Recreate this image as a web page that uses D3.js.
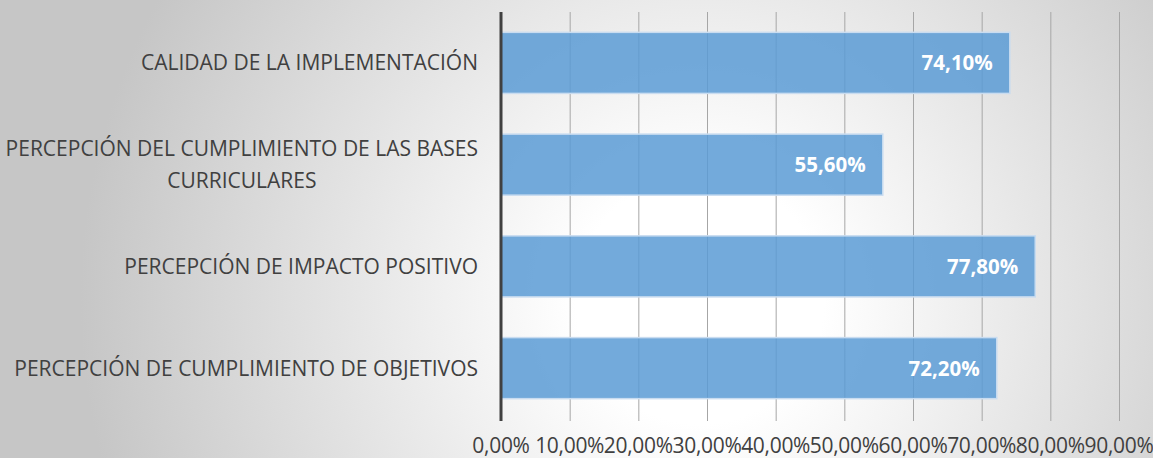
<!DOCTYPE html>
<html>
<head>
<meta charset="utf-8">
<script src="https://cdn.jsdelivr.net/npm/d3@7"></script>
<style>
  body { margin: 0; }
  svg { display: block; font-family: "Open Sans", sans-serif; }
</style>
</head>
<body>
<div id="chart"></div>
<script>
// data, top to bottom
var categories = [
  ["CALIDAD DE LA IMPLEMENTACIÓN"],
  ["PERCEPCIÓN DEL CUMPLIMIENTO DE LAS BASES", "CURRICULARES"],
  ["PERCEPCIÓN DE IMPACTO POSITIVO"],
  ["PERCEPCIÓN DE CUMPLIMIENTO DE OBJETIVOS"]
]
var values = [0.741, 0.556, 0.778, 0.722]
var ticks = [0, 0.1, 0.2, 0.3, 0.4, 0.5, 0.6, 0.7, 0.8, 0.9]

var width = 1153, height = 458
var fmt = function(v){ return (v * 100).toFixed(2).replace('.', ',') + '%' }

var svg = d3.select('#chart').append('svg')
  .attr('width', width)
  .attr('height', height)

var defs = svg.append('defs')
var grad = defs.append('radialGradient')
  .attr('id', 'bg')
  .attr('gradientUnits', 'userSpaceOnUse')
  .attr('cx', 700).attr('cy', 300).attr('r', 620)
grad.append('stop').attr('offset', '0%').attr('stop-color', '#ffffff')
grad.append('stop').attr('offset', '20%').attr('stop-color', '#ffffff')
grad.append('stop').attr('offset', '100%').attr('stop-color', '#c6c6c6')

svg.append('rect')
  .attr('width', width).attr('height', height)
  .attr('fill', 'url(#bg)')

var x = d3.scaleLinear().domain([0, 0.9]).range([501, 1119])
var y = d3.scaleBand().domain(d3.range(categories.length))
  .range([12, 419]).paddingInner(0.4).paddingOuter(0.2)

// gridlines
svg.append('g')
  .selectAll('line')
  .data(ticks.slice(1))
  .enter()
  .append('line')
  .attr('x1', function(d){ return x(d) + 0.5 })
  .attr('x2', function(d){ return x(d) + 0.5 })
  .attr('y1', 12)
  .attr('y2', 421)
  .attr('stroke', '#a6a6a6')
  .attr('stroke-width', 1)

// bars
svg.append('g')
  .selectAll('rect')
  .data(values)
  .enter()
  .append('rect')
  .attr('x', x(0))
  .attr('y', function(d, i){ return y(i) })
  .attr('width', function(d){ return x(d) - x(0) })
  .attr('height', y.bandwidth())
  .attr('fill', '#5b9bd5')
  .attr('fill-opacity', 0.85)
  .attr('stroke', '#c9dcf0')
  .attr('stroke-width', 1.5)

// value labels
svg.append('g')
  .selectAll('text')
  .data(values)
  .enter()
  .append('text')
  .attr('x', function(d){ return x(d) - 17 })
  .attr('y', function(d, i){ return y(i) + y.bandwidth() / 2 })
  .attr('dy', '0.36em')
  .attr('text-anchor', 'end')
  .attr('fill', '#ffffff')
  .attr('font-weight', 'bold')
  .style('font-size', '20.5px')
  .text(fmt)

// axis line
svg.append('line')
  .attr('x1', x(0)).attr('x2', x(0))
  .attr('y1', 12).attr('y2', 421)
  .attr('stroke', '#404040')
  .attr('stroke-width', 3)

// x tick labels
svg.append('g')
  .selectAll('text')
  .data(ticks)
  .enter()
  .append('text')
  .attr('x', function(d){ return x(d) })
  .attr('y', 445)
  .attr('dy', '0.36em')
  .attr('text-anchor', 'middle')
  .attr('fill', '#404040')
  .style('font-size', '21px')
  .style('letter-spacing', '-0.3px')
  .text(fmt)

// category labels, multi-line centred on the widest line, right edge at 478
var labelG = svg.append('g')
categories.forEach(function(lines, i){
  var g = labelG.append('g')
  var cy = y(i) + y.bandwidth() / 2
  var lh = 32
  var texts = lines.map(function(line, j){
    return g.append('text')
      .attr('y', cy + (j - (lines.length - 1) / 2) * lh)
      .attr('dy', '0.36em')
      .attr('text-anchor', 'middle')
      .attr('fill', '#404040')
      .style('font-size', '21px')
      .text(line)
  })
  var maxW = d3.max(texts, function(t){ return t.node().getComputedTextLength() })
  texts.forEach(function(t){ t.attr('x', 478 - maxW / 2) })
})
</script>
</body>
</html>
